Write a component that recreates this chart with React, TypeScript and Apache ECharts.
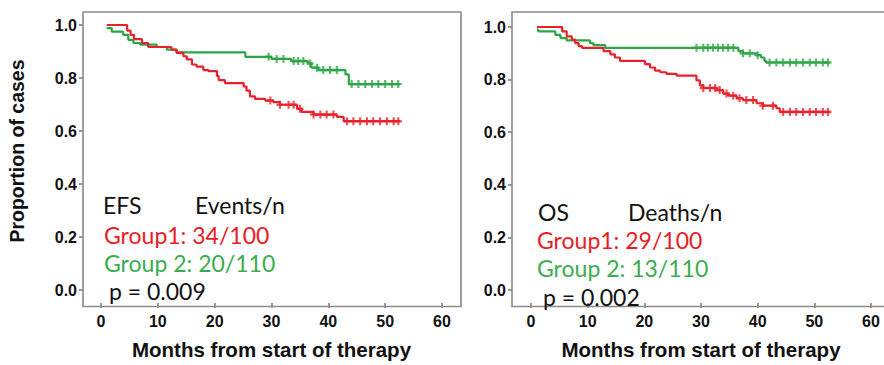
import React, { useEffect, useRef } from "react";
import * as echarts from "echarts";

// Kaplan–Meier step points [month, proportion]
const efsGroup1: [number, number][] = [
  [1.0, 1.0], [4.6, 0.979], [5.2, 0.963], [5.8, 0.947], [7.2, 0.932], [8.3, 0.917],
  [12.4, 0.907], [13.3, 0.895], [14.5, 0.882], [15.1, 0.870], [16.0, 0.851], [16.8, 0.843],
  [18.0, 0.830], [18.9, 0.826], [20.4, 0.808], [20.7, 0.792], [21.8, 0.781], [25.1, 0.768],
  [25.6, 0.752], [26.2, 0.731], [27.1, 0.721], [28.9, 0.715], [30.3, 0.709], [31.5, 0.699],
  [34.5, 0.684], [35.3, 0.672], [37.4, 0.662], [41.5, 0.653], [42.7, 0.637], [52.6, 0.637],
];
const efsGroup2: [number, number][] = [
  [1.0, 0.988], [1.9, 0.975], [3.9, 0.963], [4.8, 0.944], [5.7, 0.932], [6.9, 0.926],
  [9.8, 0.917], [11.6, 0.907], [13.3, 0.897], [25.4, 0.880], [30.0, 0.872], [33.5, 0.864],
  [36.4, 0.855], [37.0, 0.839], [38.2, 0.830], [43.0, 0.814], [43.6, 0.777], [52.6, 0.777],
];
const osGroup1: [number, number][] = [
  [1.05, 1.0], [5.5, 0.983], [6.3, 0.964], [7.2, 0.952], [7.8, 0.939], [8.4, 0.927],
  [9.0, 0.921], [12.8, 0.908], [14.0, 0.896], [14.8, 0.884], [15.7, 0.871], [20.1, 0.859],
  [21.0, 0.846], [21.9, 0.834], [22.8, 0.828], [23.9, 0.822], [25.7, 0.815], [29.2, 0.797],
  [29.8, 0.778], [30.4, 0.768], [32.7, 0.760], [33.9, 0.747], [34.8, 0.739], [36.3, 0.729],
  [37.4, 0.722], [39.8, 0.710], [40.9, 0.701], [43.3, 0.691], [43.9, 0.677], [52.7, 0.677],
];
const osGroup2: [number, number][] = [
  [1.05, 0.99], [1.3, 0.983], [4.3, 0.970], [5.2, 0.958], [6.3, 0.949], [10.4, 0.939],
  [11.0, 0.931], [13.1, 0.921], [36.6, 0.908], [37.4, 0.900], [39.8, 0.893], [40.6, 0.884],
  [41.2, 0.871], [41.5, 0.865], [52.7, 0.865],
];

// Censoring times (months)
const efsCens1 = [29.8, 31.5, 33.0, 33.9, 35.0, 37.4, 38.6, 39.7, 40.9, 43.3, 44.4, 45.6, 46.8, 47.9, 49.1, 50.3, 51.5, 52.3];
const efsCens2 = [29.5, 30.9, 32.1, 33.9, 34.7, 35.6, 36.8, 38.0, 39.1, 40.3, 41.5, 44.1, 45.3, 46.5, 47.7, 48.8, 50.0, 51.2, 52.3];
const osCens1 = [30.4, 31.6, 32.5, 33.3, 34.5, 35.7, 36.8, 38.0, 39.2, 40.9, 42.7, 44.5, 45.7, 46.8, 48.0, 49.2, 50.3, 51.5, 52.4];
const osCens2 = [29.2, 30.4, 31.2, 32.1, 33.0, 33.9, 34.8, 35.7, 37.4, 38.6, 40.0, 42.1, 43.3, 44.5, 45.7, 46.8, 48.0, 49.2, 50.3, 51.5, 52.4];

const xTicks = [0, 10, 20, 30, 40, 50, 60];
const yTicks = [0, 0.2, 0.4, 0.6, 0.8, 1.0];

const RED = "#e8222c";
const GREEN = "#2ea647";
const RED_T = "#ea1c24";
const GREEN_T = "#3aad4f";

const PLUS = "path://M3.5,0 L6.5,0 L6.5,3.5 L10,3.5 L10,6.5 L6.5,6.5 L6.5,10 L3.5,10 L3.5,6.5 L0,6.5 L0,3.5 L3.5,3.5 Z";

function valueAt(curve: [number, number][], t: number): number {
  let v = curve[0][1];
  for (const [x, y] of curve) {
    if (x <= t) v = y;
  }
  return v;
}

export default function App() {
  const ref = useRef<HTMLDivElement>(null);
  useEffect(() => {
    if (!ref.current) return;
    const chart = echarts.init(ref.current, undefined, { renderer: "svg" });

    const xAxisBase = (gi: number, offset: number) => ({
      type: "value" as const,
      gridIndex: gi,
      min: xTicks[0],
      max: xTicks[xTicks.length - 1],
      interval: 10,
      offset,
      axisLine: { show: false, onZero: false },
      axisTick: { show: true, length: 5, lineStyle: { color: "#777", width: 1.5 } },
      axisLabel: { margin: 10, color: "#111", fontSize: 16, fontWeight: "bold", fontFamily: "Liberation Sans" },
      splitLine: { show: false },
      name: "Months from start of therapy",
      nameLocation: "middle" as const,
      nameGap: 36,
      nameTextStyle: { color: "#111", fontSize: 20.5, fontWeight: "bold", fontFamily: "Liberation Sans" },
    });
    const yAxisBase = (gi: number, offset: number) => ({
      type: "value" as const,
      gridIndex: gi,
      min: yTicks[0],
      max: yTicks[yTicks.length - 1],
      interval: 0.2,
      offset,
      axisLine: { show: false, onZero: false },
      axisTick: { show: true, length: 4, lineStyle: { color: "#777", width: 1.5 } },
      axisLabel: {
        margin: 6,
        color: "#111",
        fontSize: 16,
        fontWeight: "bold",
        fontFamily: "Liberation Sans",
        formatter: (v: number) => v.toFixed(1),
      },
      splitLine: { show: false },
    });

    const line = (data: [number, number][], color: string, gi: number) => ({
      type: "line" as const,
      xAxisIndex: gi,
      yAxisIndex: gi,
      step: "end" as const,
      data,
      symbol: "none",
      lineStyle: { color, width: 2.2 },
      z: 3,
    });
    const cens = (times: number[], curve: [number, number][], color: string, gi: number) => ({
      type: "scatter" as const,
      xAxisIndex: gi,
      yAxisIndex: gi,
      data: times.map((t) => [t, valueAt(curve, t)]),
      symbol: PLUS,
      symbolSize: [7, 8],
      itemStyle: { color },
      z: 4,
    });

    const txt = (x: number, y: number, text: string, color: string) => ({
      type: "text" as const,
      x,
      y,
      style: {
        text,
        fill: color,
        fontSize: 23,
        fontFamily: "Lato",
        verticalAlign: "middle" as const,
        align: "left" as const,
      },
      z: 10,
    });

    chart.setOption({
      animation: false,
      backgroundColor: "#ffffff",
      grid: [
        { left: 101, top: 25, width: 341, height: 269, containLabel: false },
        { left: 531, top: 27, width: 340, height: 267, containLabel: false },
      ],
      xAxis: [xAxisBase(0, 13), xAxisBase(1, 13)],
      yAxis: [yAxisBase(0, 18), yAxisBase(1, 19)],
      series: [
        line(efsGroup2, GREEN, 0),
        line(efsGroup1, RED, 0),
        cens(efsCens2, efsGroup2, GREEN, 0),
        cens(efsCens1, efsGroup1, RED, 0),
        line(osGroup2, GREEN, 1),
        line(osGroup1, RED, 1),
        cens(osCens2, osGroup2, GREEN, 1),
        cens(osCens1, osGroup1, RED, 1),
      ],
      graphic: [
        {
          type: "rect",
          shape: { x: 83, y: 12, width: 378, height: 294.5 },
          style: { fill: "none", stroke: "#8a8a8a", lineWidth: 1.6 },
          z: 1,
        },
        {
          type: "rect",
          shape: { x: 512, y: 12, width: 380, height: 294.5 },
          style: { fill: "none", stroke: "#8a8a8a", lineWidth: 1.6 },
          z: 1,
        },
        {
          type: "text",
          x: 17,
          y: 151,
          rotation: Math.PI / 2,
          style: {
            text: "Proportion of cases",
            fill: "#111",
            fontSize: 19.5,
            fontWeight: "bold",
            fontFamily: "Liberation Sans",
            align: "center",
            verticalAlign: "middle",
          },
        },
        txt(103, 205, "EFS", "#111"),
        txt(195, 205, "Events/n", "#111"),
        txt(104, 235, "Group1: 34/100", RED_T),
        txt(104, 263, "Group 2: 20/110", GREEN_T),
        txt(109, 291, "p = 0.009", "#111"),
        txt(538, 212, "OS", "#111"),
        txt(628, 212, "Deaths/n", "#111"),
        txt(537, 240, "Group1: 29/100", RED_T),
        txt(537, 268, "Group 2: 13/110", GREEN_T),
        txt(543, 297, "p = 0.002", "#111"),
      ],
    });
    return () => chart.dispose();
  }, []);
  return (
    <div
      ref={ref}
      style={{ position: "fixed", left: 0, top: 0, width: 884, height: 365, background: "#fff" }}
    />
  );
}
